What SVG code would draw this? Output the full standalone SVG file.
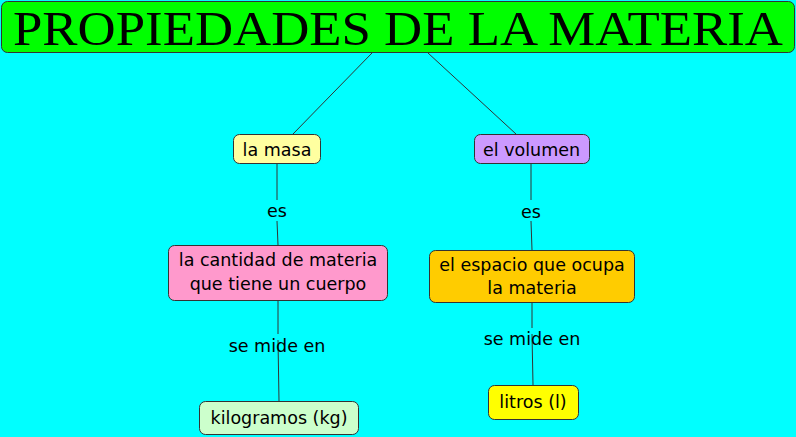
<svg xmlns="http://www.w3.org/2000/svg" width="796" height="437" viewBox="0 0 796 437">
<style>
.n{stroke:#333;stroke-width:1}
.t{font-family:"DejaVu Sans",Verdana,sans-serif;font-size:17.5px;fill:#000;text-anchor:middle}
.c line{stroke:#333;stroke-width:1}
</style>
<rect x="0" y="0" width="796" height="437" fill="#00ffff"/>
<g class="c" id="connectors">
<line x1="372" y1="53" x2="293" y2="134"/>
<line x1="428" y1="53" x2="516" y2="134"/>
<line x1="277" y1="163" x2="277" y2="200"/>
<line x1="277" y1="221" x2="278" y2="245"/>
<line x1="531" y1="163" x2="531" y2="200"/>
<line x1="531" y1="221" x2="532" y2="250"/>
<line x1="278" y1="300" x2="278" y2="334"/>
<line x1="278" y1="340" x2="279" y2="401"/>
<line x1="532" y1="302" x2="532" y2="328"/>
<line x1="532" y1="334" x2="533" y2="385"/>
</g>
<g id="labels">
<text class="t" x="277" y="217">es</text>
<text class="t" x="531" y="218">es</text>
<text class="t" x="277" y="352">se mide en</text>
<text class="t" x="532" y="345">se mide en</text>
</g>
<g id="title">
<rect class="n" x="1.5" y="1.5" width="793" height="51" rx="6" fill="#00ff00"/>
<text x="398" y="45" font-family="'Liberation Serif',serif" font-size="49" text-anchor="middle" textLength="770" lengthAdjust="spacingAndGlyphs" fill="#000">PROPIEDADES DE LA MATERIA</text>
</g>
<g id="masa">
<rect class="n" x="233.5" y="134.5" width="87" height="29" rx="6" fill="#ffffa0"/>
<text class="t" x="277" y="156">la masa</text>
</g>
<g id="volumen">
<rect class="n" x="474.5" y="134.5" width="115" height="29" rx="6" fill="#cc99ff"/>
<text class="t" x="531.5" y="156">el volumen</text>
</g>
<g id="cantidad">
<rect class="n" x="168.5" y="245.5" width="219" height="55" rx="6" fill="#ff99cc"/>
<text class="t" x="278" y="266">la cantidad de materia</text>
<text class="t" x="278" y="290">que tiene un cuerpo</text>
</g>
<g id="espacio">
<rect class="n" x="429.5" y="250.5" width="205" height="52" rx="6" fill="#ffcc00"/>
<text class="t" x="532" y="271">el espacio que ocupa</text>
<text class="t" x="532" y="294">la materia</text>
</g>
<g id="kilogramos">
<rect class="n" x="199.5" y="401.5" width="159" height="33" rx="6" fill="#ccffcc"/>
<text class="t" x="279" y="424">kilogramos (kg)</text>
</g>
<g id="litros">
<rect class="n" x="488.5" y="385.5" width="90" height="34" rx="6" fill="#ffff00"/>
<text class="t" x="533" y="408">litros (l)</text>
</g>
</svg>
